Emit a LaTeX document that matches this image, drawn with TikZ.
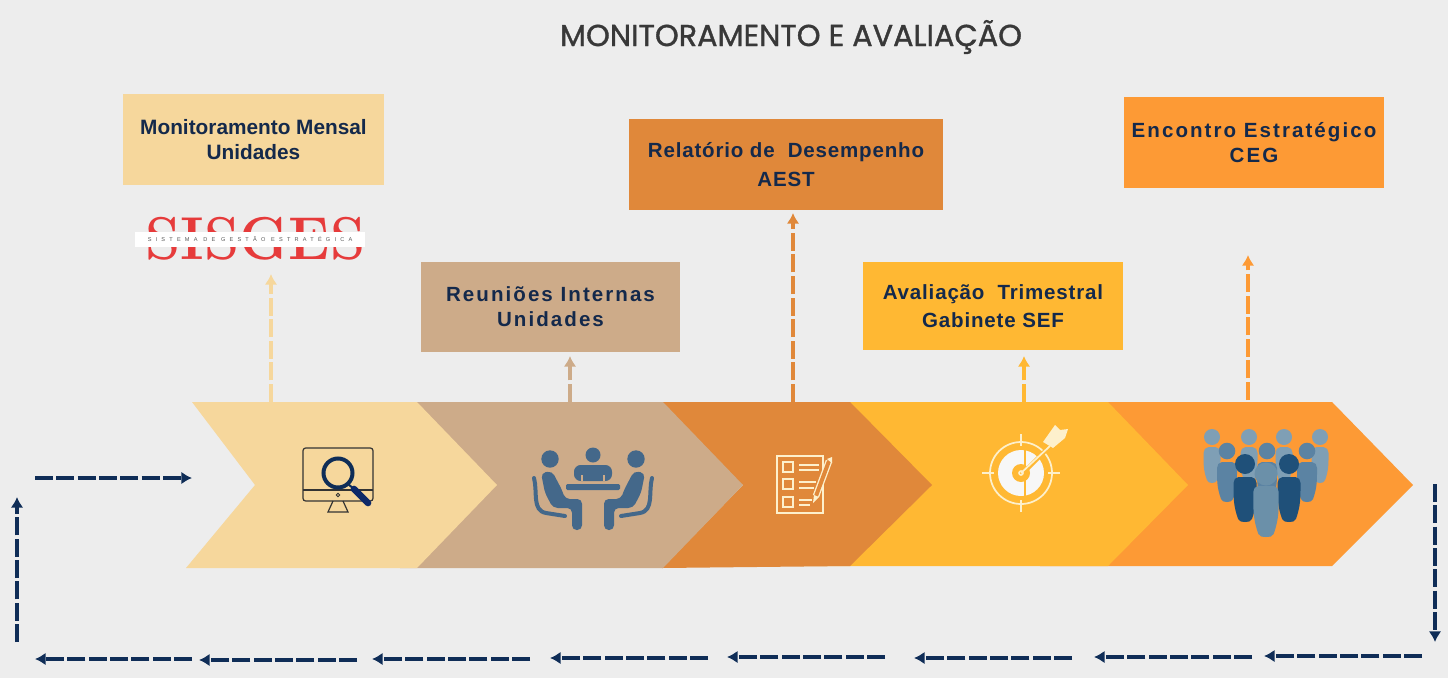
\documentclass[tikz,border=0pt]{standalone}
\usepackage{fontspec}
\setmainfont{Liberation Sans}
\newfontfamily\titulofont[FakeBold=1.2]{Poppins}
\newfontfamily\caixafont[LetterSpace=4]{Liberation Sans}
\newfontfamily\largafont[LetterSpace=10]{Liberation Sans}
\newfontfamily\justafont{Liberation Sans}
\newfontfamily\logofont{Latin Modern Roman}
\newfontfamily\subfont[LetterSpace=75]{Liberation Sans}
\usetikzlibrary{arrows.meta}
\definecolor{fundo}{HTML}{EDEDED}
\definecolor{creme}{HTML}{F6D79C}
\definecolor{bege}{HTML}{CDAB89}
\definecolor{telha}{HTML}{E0883A}
\definecolor{amarelo}{HTML}{FFB833}
\definecolor{laranja}{HTML}{FD9A35}
\definecolor{marinho}{HTML}{0F2D57}
\definecolor{texto}{HTML}{14294B}
\definecolor{aco}{HTML}{44688A}
\definecolor{claro}{HTML}{FDF0CC}
\definecolor{vermelho}{HTML}{E63B3B}
\definecolor{fila1}{HTML}{7F9FB5}
\definecolor{fila2}{HTML}{5B83A3}
\definecolor{fila3}{HTML}{1F5079}
\definecolor{fila4}{HTML}{6B90A9}
\newcommand{\pessoa}[5]{% x, topo do corpo, base, meia largura, cor
  \fill[#5] (#1-#4,#2+6) to[out=90,in=180] (#1-#4+5,#2) -- (#1+#4-5,#2)
    to[out=0,in=90] (#1+#4,#2+6) to[out=-90,in=70] (#1+#4*0.6,#3-3)
    to[out=-110,in=0] (#1,#3) to[out=180,in=-70] (#1-#4*0.6,#3-3)
    to[out=110,in=-90] cycle;
}
\begin{document}
\begin{tikzpicture}[
x=.75pt, y=-.75pt,
caixa/.style={minimum width=195pt, minimum height=68pt, inner sep=0pt, align=center,
  text=texto, font=\caixafont\fontsize{15.4}{18.8}\selectfont\bfseries},
fluxo/.style={draw=marinho, line width=2.5pt, dash pattern=on 13.5pt off 2.5pt, -{Latex[length=8pt,width=9.5pt]}},
haste/.style={line width=2.3pt, dash pattern=on 13.5pt off 2.7pt, -{Latex[length=8pt,width=9.5pt]}},
icone/.style={draw=claro, line width=1.3pt},
]
\useasboundingbox[fill=fundo] (0,0) rectangle (1448,678);
% Titulo
\node[font=\titulofont\fontsize{22.7}{26}\selectfont, text=black!78] (titulo) at (791,37) {MONITORAMENTO E AVALIAÇÃO};
% Divisas
\fill[laranja] (1040,402) -- (1332,402) -- (1413,485) -- (1332,566) -- (1040,566) -- cycle;
\fill[amarelo] (800,402) -- (1108,402) -- (1188,485) -- (1108,566) -- (800,566) -- cycle;
\fill[telha] (600,402) -- (850,402) -- (932,485) -- (850,566) -- (662,568) -- (743,485) -- cycle;
\fill[bege] (400,402) -- (663,402) -- (743,485) -- (663,568) -- (400,568) -- cycle;
\fill[creme] (192,402) -- (417,402) -- (497,485) -- (417,568) -- (186,568) -- (255,485) -- cycle;
% Caixas
\node[caixa, fill=creme, minimum width=195.75pt, font=\justafont\fontsize{15.6}{18.8}\selectfont\bfseries] (mensal) at (253.5,139.5) {Monitoramento Mensal\\Unidades};
\node[caixa, fill=bege, minimum width=194.25pt, font=\largafont\fontsize{15.4}{18.8}\selectfont\bfseries] (reunioes) at (550.5,307) {Reuniões Internas\\Unidades};
\node[caixa, fill=telha, minimum width=235.5pt] (relatorio) at (786,164.5) {Relatório de\ \ Desempenho\\[3pt]AEST};
\node[caixa, fill=amarelo, minimum width=195pt, minimum height=66pt] (avaliacao) at (993,306) {Avaliação\ \ Trimestral\\[2pt]Gabinete SEF};
\node[caixa, fill=laranja, font=\largafont\fontsize{15.4}{18.8}\selectfont\bfseries] (encontro) at (1254,142.5) {Encontro Estratégico\\CEG};
% Logo
\node[text=vermelho, inner sep=0pt, xscale=.93, font=\logofont\fontsize{45.4}{46}\selectfont\bfseries] (sisges) at (255.5,239) {SISGES};
\node[fill=white, minimum width=172.5pt, minimum height=11pt, inner sep=0pt, text=black!65,
  font=\subfont\fontsize{4.2}{5}\selectfont] (faixa) at (250,239.5) {SISTEMA DE GESTÃO ESTRATÉGICA};
% Hastes
\coordinate (pe1) at (271,402); \coordinate (ponta1) at (271,274);
\coordinate (pe2) at (570,402); \coordinate (ponta2) at (570,356);
\coordinate (pe3) at (793,402); \coordinate (ponta3) at (793,213);
\coordinate (pe4) at (1024,402); \coordinate (ponta4) at (1024,356);
\coordinate (pe5) at (1248,400); \coordinate (ponta5) at (1248,255);
\draw[haste, color=creme] (pe1) -- (ponta1);
\draw[haste, color=bege] (pe2) -- (ponta2);
\draw[haste, color=telha] (pe3) -- (ponta3);
\draw[haste, color=amarelo] (pe4) -- (ponta4);
\draw[haste, color=laranja] (pe5) -- (ponta5);
% Monitor
\draw[black!80, line width=.9pt, rounded corners=2pt] (303,448) rectangle (373,501);
\draw[black!80, line width=1.2pt] (303,490) -- (373,490);
\draw[black!80, line width=.9pt] (333,501) -- (328,512) -- (348,512) -- (343,501);
\draw[black!80, line width=.7pt] (338,495) circle (1.8);
\draw[marinho, line width=3pt] (338,473) circle (14.5);
\draw[marinho, line width=1.5pt] (348,484) -- (354,489);
\draw[marinho!90!blue, line width=5pt, line cap=round] (354,489) -- (368,503);
% Reuniao
\fill[aco] (593,455) circle (7.5) (550,459) circle (8.7) (636,459) circle (8.7);
\fill[aco, rounded corners=5pt] (574,481) -- (574,465) -- (612,465) -- (612,481) -- cycle;
\draw[bege, line width=.8pt] (582,475) -- (582,481) (604,475) -- (604,481);
\fill[aco, rounded corners=1pt] (566,484) rectangle (620,490);
\foreach \x/\s in {0/1, 1186/-1} {
  \begin{scope}[shift={(\x,0)}, xscale=\s]
    \fill[aco, rounded corners=3.5pt] (541,473) -- (552,471) -- (562,490) -- (565,499) -- (582,499) -- (582,530) -- (572,530) -- (572,508) -- (553,508) -- (545,493) -- cycle;
    \draw[aco, line width=3pt, line cap=round] (534,478) to[out=-75,in=170] (546,513) -- (565,516);
  \end{scope}
}
% Lista
\draw[icone] (777,456) rectangle (823,513);
\foreach \y in {462,479,497} \draw[icone] (783,\y) rectangle (793,\y+10);
\foreach \y/\fim in {465/819, 470/819, 482/816, 488/814, 500/812, 505/810} \draw[icone] (799,\y) -- (\fim,\y);
\draw[claro, line width=5pt] (829,461) -- (816,496);
\draw[telha, line width=3pt] (829,461) -- (816,496);
\fill[claro] (827,459) -- (832,457) -- (832,463) -- cycle (814,495) -- (819,497) -- (813,503) -- cycle;
% Alvo
\draw[claro, line width=1.3pt] (1021,473) circle (31);
\foreach \dx/\dy in {1/0, -1/0, 0/1, 0/-1} \draw[claro, line width=1.3pt] (1021+\dx*27,473+\dy*27) -- (1021+\dx*39,473+\dy*39);
\fill[black!3!white] (1021,473) circle (23);
\draw[amarelo, line width=1.5pt] (1025,448) -- (1025,498);
\fill[amarelo] (1021,473) circle (9);
\draw[claro, line width=1.2pt] (1021,473) circle (2);
\draw[amarelo, line width=3.2pt] (1026,470) -- (1048,448);
\draw[claro, line width=1.3pt] (1021,473) -- (1050,446);
\fill[claro] (1043,442) -- (1055,425) -- (1060,430) -- (1068,429) -- (1065,438) -- (1053,448) -- cycle;
% Pessoas
\foreach \x in {1212,1249,1284,1320} {
  \fill[fila1] (\x,437) circle (8);
  \pessoa{\x}{447}{483}{8.5}{fila1}
}
\foreach \x in {1227,1267,1307} {
  \fill[fila2] (\x,451) circle (8.3);
  \pessoa{\x}{462}{502}{10}{fila2}
}
\foreach \x in {1245,1289} {
  \fill[fila3] (\x,464) circle (10);
  \pessoa{\x}{477}{522}{11.5}{fila3}
}
\fill[fila4] (1266,474) circle (11.5);
\pessoa{1266}{486}{537}{12.7}{fila4}
% Retorno
\coordinate (r0a) at (1435,484); \coordinate (r0b) at (1435,642);
\coordinate (r1a) at (1422,656); \coordinate (r1b) at (1264,656);
\coordinate (r2a) at (1252,657); \coordinate (r2b) at (1094,657);
\coordinate (r3a) at (1072,658); \coordinate (r3b) at (914,658);
\coordinate (r4a) at (885,657); \coordinate (r4b) at (727,657);
\coordinate (r5a) at (708,658); \coordinate (r5b) at (550,658);
\coordinate (r6a) at (530,659); \coordinate (r6b) at (372,659);
\coordinate (r7a) at (357,660); \coordinate (r7b) at (199,660);
\coordinate (r8a) at (192,659); \coordinate (r8b) at (35,659);
\coordinate (r9a) at (17,642); \coordinate (r9b) at (17,497);
\coordinate (r10a) at (35,478); \coordinate (r10b) at (192,478);
\foreach \n in {0,...,10} \draw[fluxo] (r\n a) -- (r\n b);
\end{tikzpicture}
\end{document}
